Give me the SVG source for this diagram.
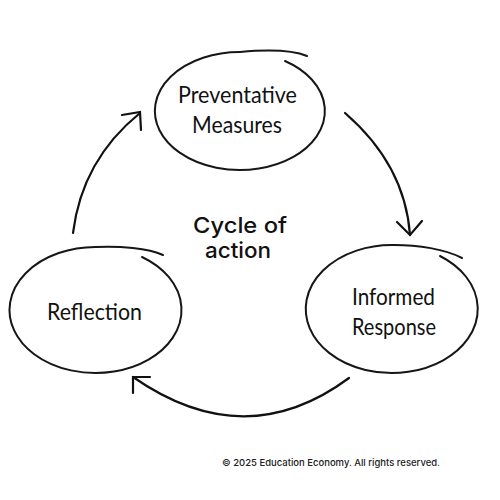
<svg xmlns="http://www.w3.org/2000/svg" width="500" height="500" viewBox="0 0 500 500">
<style>
.loop{fill:none;stroke:#161616;stroke-width:2;stroke-linecap:round}
.conn{fill:none;stroke:#111;stroke-width:2.2;stroke-linecap:round;stroke-linejoin:miter}
.hand{font-family:"Lato","Open Sans","Liberation Sans",sans-serif;font-weight:400;font-size:24px;fill:#111}
.title{font-family:"Inter","Lato","Liberation Sans",sans-serif;font-weight:500;font-size:22px;fill:#111;text-anchor:middle}
.copy{font-family:"Inter","Lato","Liberation Sans",sans-serif;font-weight:500;font-size:9.5px;fill:#222}
</style>
<rect width="500" height="500" fill="#fff"/>
<g id="connectors">
<path class="conn" d="M73,233 Q82,160 140,113"/>
<path class="conn" d="M122,115 L140,112 L141,130"/>
<path class="conn" d="M345,113 Q405,165 410,235"/>
<path class="conn" d="M397,222 L410,235 L422,221"/>
<path class="conn" d="M349,378 Q245,455 133,377"/>
<path class="conn" d="M150,377 L133,377 L133,393"/>
</g>
<g id="node-preventative">
<path class="loop" d="M285,61 A85,59 0 1,1 240,52 C262,50 290,49 307,56"/>
<text class="hand" x="178" y="103" textLength="119" lengthAdjust="spacingAndGlyphs">Preventative</text>
<text class="hand" x="192" y="133" textLength="90" lengthAdjust="spacingAndGlyphs">Measures</text>
</g>
<g id="node-informed">
<path class="loop" d="M440,256 A86,64 0 1,1 394,245 C418,245 445,249 462,258"/>
<text class="hand" x="352" y="305" textLength="83" lengthAdjust="spacingAndGlyphs">Informed</text>
<text class="hand" x="352" y="335" textLength="84" lengthAdjust="spacingAndGlyphs">Response</text>
</g>
<g id="node-reflection">
<path class="loop" d="M142,257 A86,63 0 1,1 96,247 C120,246 148,248 163,255"/>
<text class="hand" x="47" y="320" textLength="95" lengthAdjust="spacingAndGlyphs">Reflection</text>
</g>
<g id="center-label">
<text class="title" x="240" y="233" textLength="94" lengthAdjust="spacingAndGlyphs">Cycle of</text>
<text class="title" x="238" y="258" textLength="66" lengthAdjust="spacingAndGlyphs">action</text>
</g>
<text class="copy" x="222" y="466" textLength="218" lengthAdjust="spacingAndGlyphs">© 2025 Education Economy. All rights reserved.</text>
</svg>
